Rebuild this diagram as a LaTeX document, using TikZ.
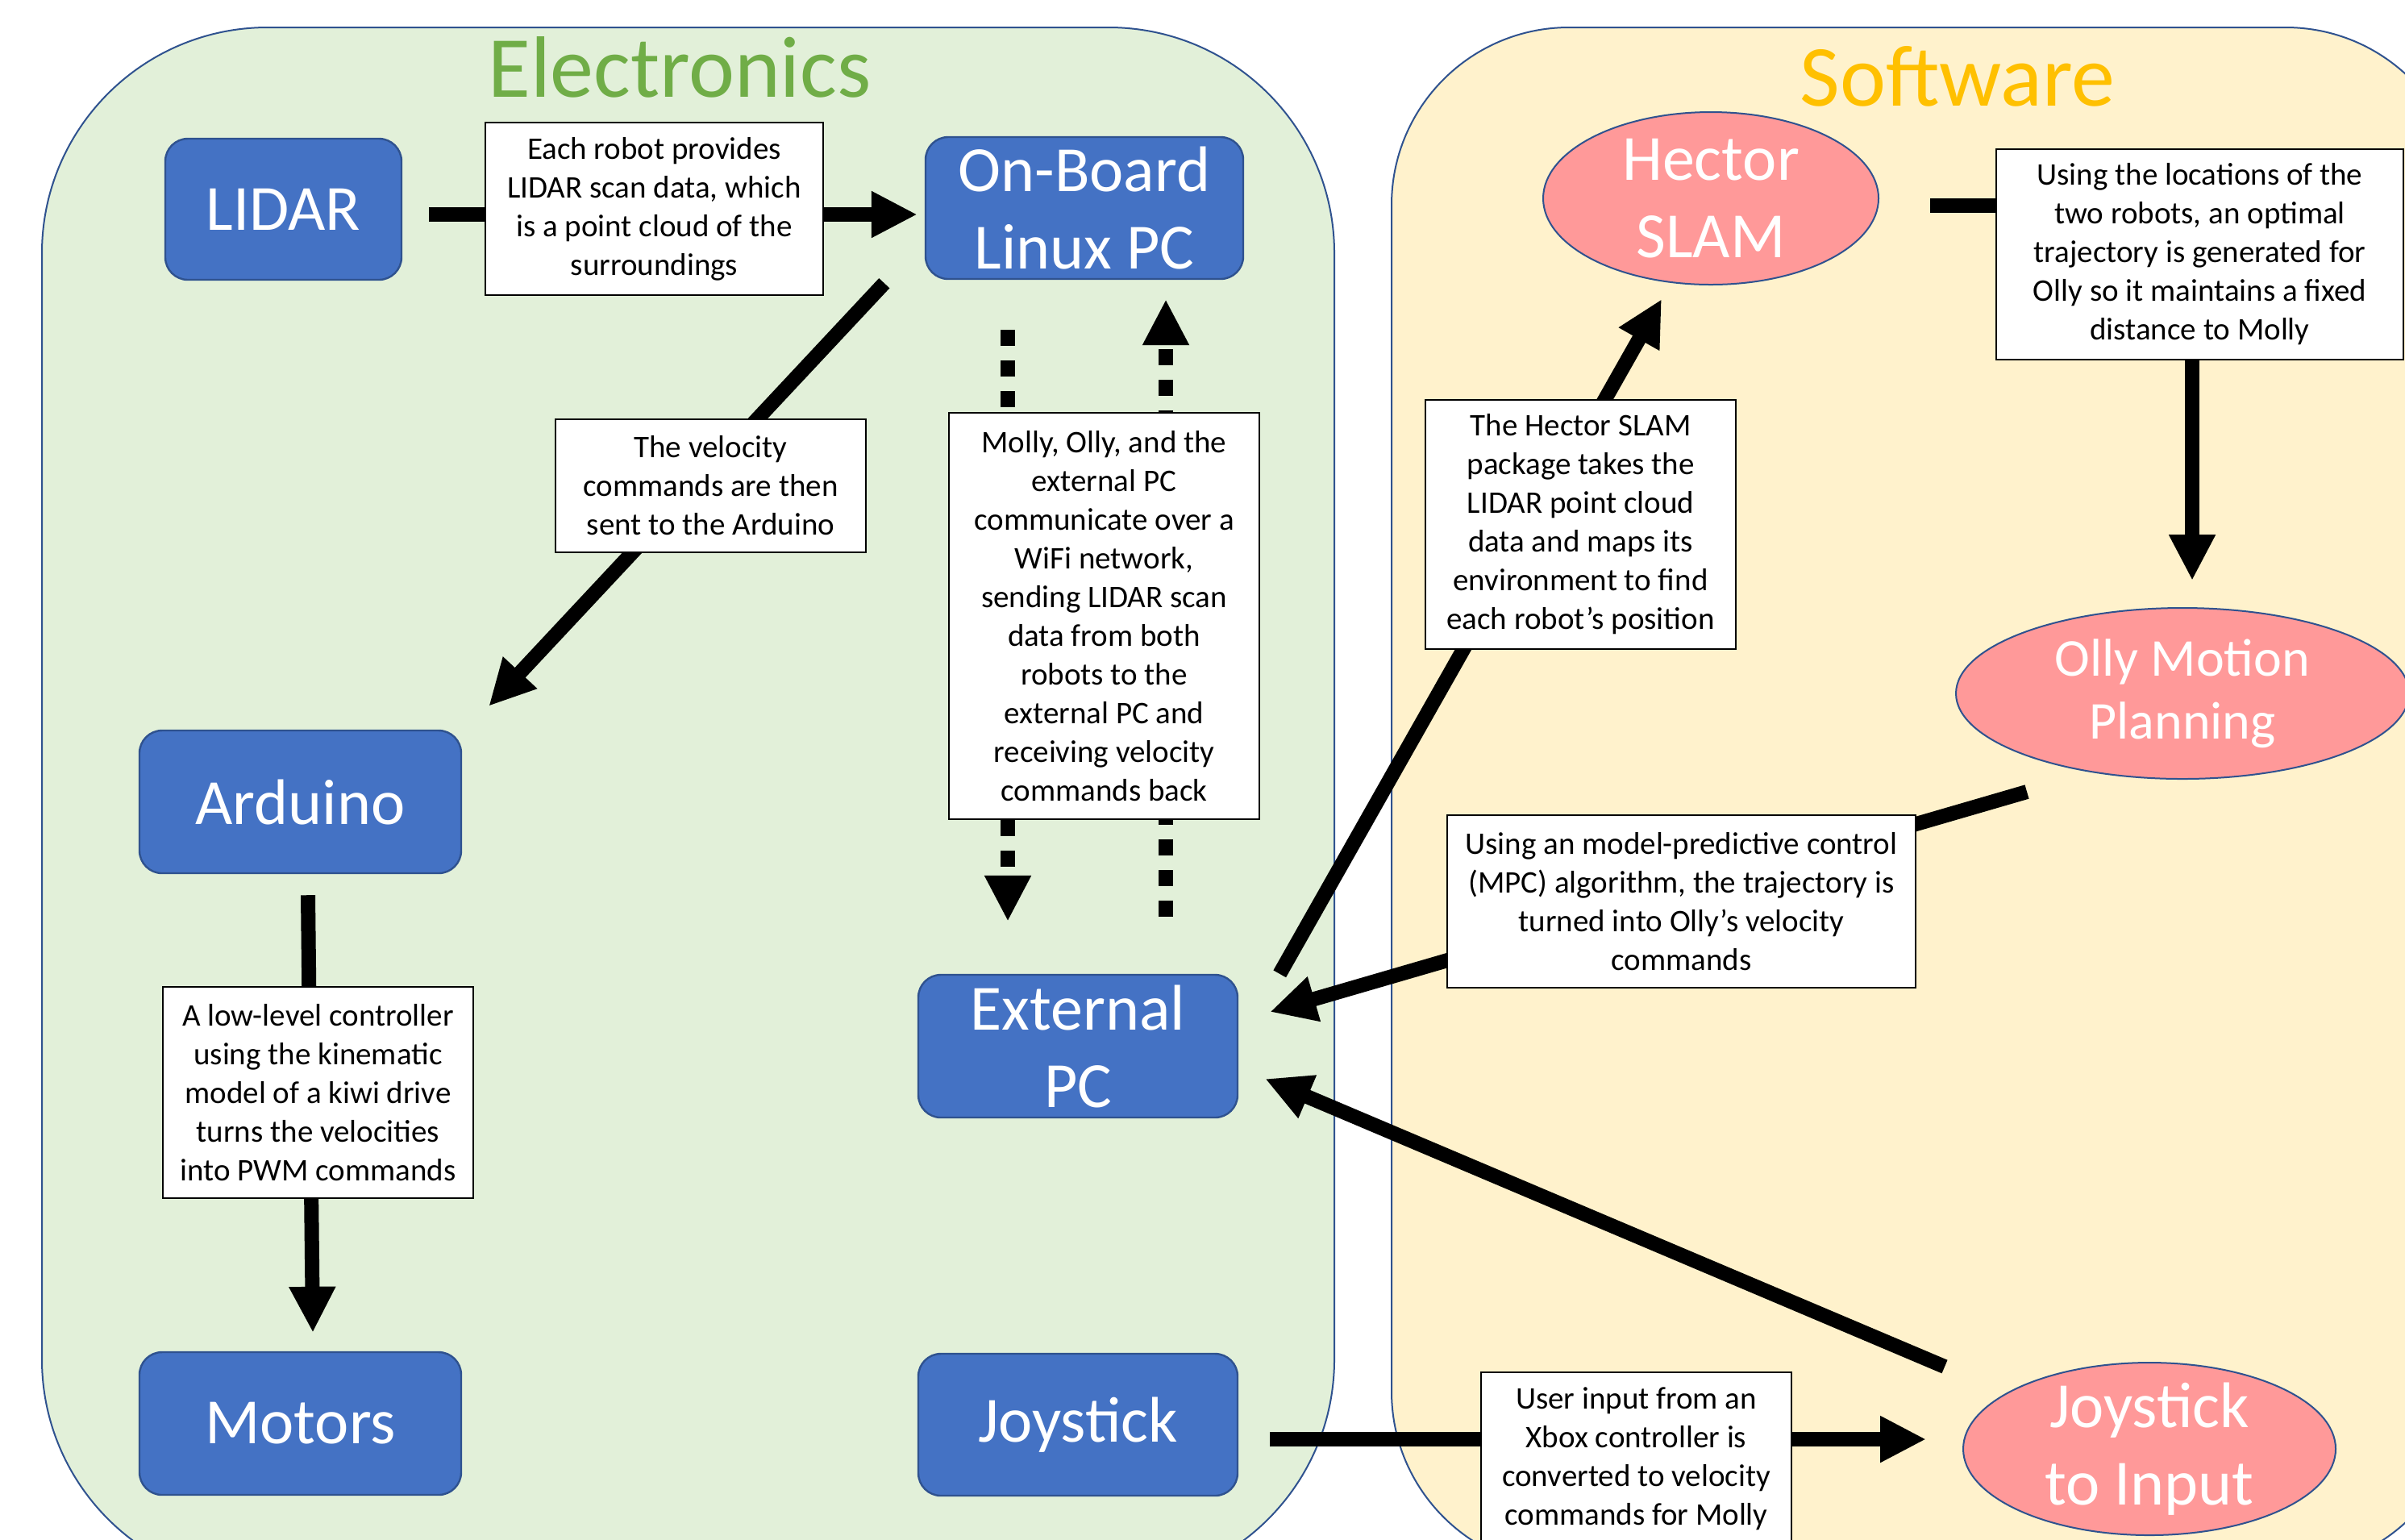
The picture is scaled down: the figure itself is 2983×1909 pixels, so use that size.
\documentclass[tikz,border=0pt]{standalone}
\usepackage{fontspec}
\setmainfont{Carlito}
\usetikzlibrary{arrows.meta,shapes.geometric,calc}
\definecolor{egreen}{HTML}{E2F0D9}
\definecolor{syellow}{HTML}{FFF2CC}
\definecolor{bfill}{HTML}{4472C4}
\definecolor{bborder}{HTML}{2F528F}
\definecolor{pinkf}{HTML}{FF9999}
\definecolor{tgreen}{HTML}{70AD47}
\definecolor{torange}{HTML}{FFC000}
\begin{document}
\begin{tikzpicture}[x=0.25pt,y=-0.25pt,
  panel/.style={draw=bborder, line width=0.5pt},
  bluebox/.style={draw=bborder, line width=0.6pt, fill=bfill, rounded corners=7pt, text=white, align=center, inner sep=0pt, font=\fontsize{20pt}{24pt}\selectfont},
  pinkell/.style={ellipse, draw=bborder, line width=0.5pt, fill=pinkf, text=white, align=center, inner xsep=0pt, inner ysep=-5pt, font=\fontsize{20pt}{24pt}\selectfont},
  note/.style={draw=black, line width=0.6pt, fill=white, align=center, inner sep=0pt, font=\fontsize{9.75pt}{12pt}\selectfont},
  arr/.style={line width=4.5pt, -{Triangle[length=14.25pt,width=13.5pt]}},
  darr/.style={arr, dash pattern=on 5pt off 4.5pt},
]
\useasboundingbox (0,0) rectangle (2983,1909);
\clip (0,0) rectangle (2983,1909);
% panels
\path[panel, fill=egreen, rounded corners=70pt] (52,34) rectangle (1655,1966);
\path[panel, fill=syellow, rounded corners=55pt] (1726,34) rectangle (3055,1946);
\node[anchor=base, text=tgreen, font=\fontsize{27pt}{32pt}\selectfont] (etitle) at (843,120) {Electronics};
\node[anchor=base, text=torange, font=\fontsize{27pt}{32pt}\selectfont] (stitle) at (2428,131) {Software};
% blue boxes
\node[bluebox, minimum width=73.25pt, minimum height=43.75pt] (lidar) at (351.5,259.5) {LIDAR};
\node[bluebox, minimum width=98.5pt, minimum height=44pt] (onboard) at (1345,258) {On-Board\\Linux PC};
\node[bluebox, minimum width=99.75pt, minimum height=44.25pt] (arduino) at (372.5,994.5) {Arduino};
\node[bluebox, minimum width=99.75pt, minimum height=44.25pt] (motors) at (372.5,1765.5) {Motors};
\node[bluebox, minimum width=99pt, minimum height=44.25pt] (extpc) at (1337,1297.5) {External\\PC};
\node[bluebox, minimum width=99pt, minimum height=44pt] (joystick) at (1337,1767) {Joystick};
% ellipses
\node[pinkell, minimum width=104pt, minimum height=53.5pt] (hector) at (2122,246) {Hector\\SLAM};
\node[pinkell, minimum width=140.5pt, minimum height=53pt, font=\fontsize{16.5pt}{19.5pt}\selectfont] (olly) at (2707,860) {Olly Motion\\Planning};
\node[pinkell, minimum width=115.5pt, minimum height=53.5pt] (joyin) at (2666,1797) {Joystick\\to Input};
% connectors
\draw[arr] ($(lidar.east)+(33,6.5)$) -- ($(onboard.west)+(-9,8)$);
\draw[arr] ($(onboard.south west)+(-50,4)$) -- ($(arduino.north east)+(33,-29)$);
\draw[arr] ($(arduino.south)+(9.5,26)$) -- ($(motors.north)+(15.5,-23)$);
\draw[darr] ($(onboard.south)+(-95,62)$) -- ($(extpc.north)+(-87,-65)$);
\draw[darr] ($(extpc.north)+(109,-71)$) -- ($(onboard.south)+(101,24)$);
\draw[arr] ($(extpc.north east)+(51,0)$) -- ($(hector.south)+(-61,17)$);
\draw[arr] ($(hector.east)+(63,9)$) -| ($(olly.north)+(12,-33)$);
\draw[arr] ($(olly.center)+(-193,122)$) -- ($(extpc.east)+(39,-42.5)$);
\draw[arr] ($(joyin.center)+(-254,-102)$) -- ($(extpc.east)+(33,40.5)$);
\draw[arr] ($(joystick.east)+(39,18)$) -- ($(joyin.west)+(-45,-12)$);
% notes
\node[note, minimum width=104.75pt, minimum height=53.5pt] (t1) at (811.5,259) {Each robot provides\\LIDAR scan data, which\\is a point cloud of the\\surroundings};
\node[note, minimum width=96.25pt, minimum height=41.25pt] (t2) at (881.5,602.5) {The velocity\\commands are then\\sent to the Arduino};
\node[note, minimum width=96.25pt, minimum height=126pt] (t3) at (1369.5,764) {Molly, Olly, and the\\external PC\\communicate over a\\WiFi network,\\sending LIDAR scan\\data from both\\robots to the\\external PC and\\receiving velocity\\commands back};
\node[note, minimum width=96.25pt, minimum height=65.5pt] (t4) at (394.5,1355) {A low-level controller\\using the kinematic\\model of a kiwi drive\\turns the velocities\\into PWM commands};
\node[note, minimum width=96.25pt, minimum height=77.25pt] (t5) at (1960.5,650.5) {The Hector SLAM\\package takes the\\LIDAR point cloud\\data and maps its\\environment to find\\each robot’s position};
\node[note, minimum width=126.25pt, minimum height=65.25pt] (t6) at (2728.5,315.5) {Using the locations of the\\two robots, an optimal\\trajectory is generated for\\Olly so it maintains a fixed\\distance to Molly};
\node[note, minimum width=145.25pt, minimum height=53.5pt] (t7) at (2085.5,1118) {Using an model-predictive control\\(MPC) algorithm, the trajectory is\\turned into Olly’s velocity\\commands};
\node[note, minimum width=96.25pt, minimum height=53.5pt] (t8) at (2029.5,1809) {User input from an\\Xbox controller is\\converted to velocity\\commands for Molly};
\end{tikzpicture}
\end{document}
